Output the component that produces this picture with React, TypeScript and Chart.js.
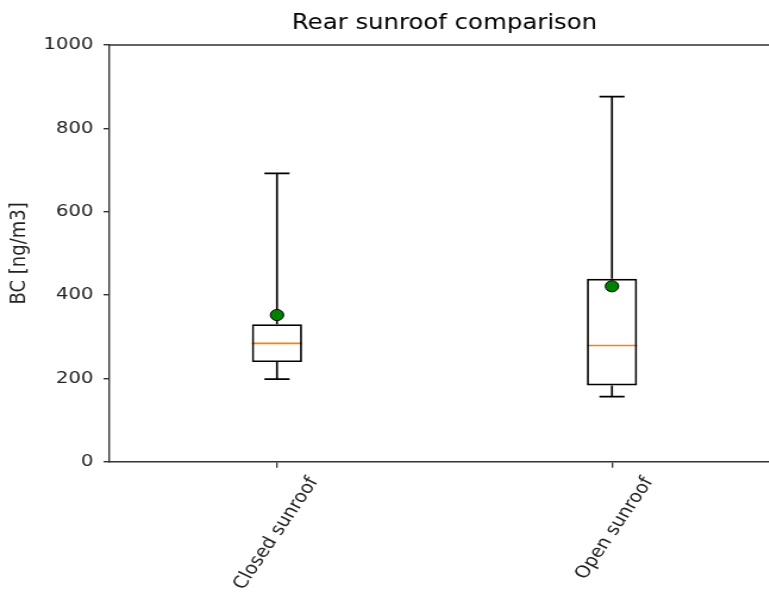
import React, { useEffect, useRef } from "react";
import { Chart, registerables } from "chart.js";

Chart.register(...registerables);

// ---- data ----
const categories: string[] = ["Closed sunroof", "Open sunroof"];
const whiskerLow: number[] = [198, 156];
const quartile1: number[] = [239, 183];
const medians: number[] = [284, 279];
const quartile3: number[] = [330, 439];
const whiskerHigh: number[] = [692, 876];
const means: number[] = [352, 421];
const yTicks: number[] = [0, 200, 400, 600, 800, 1000];

const chartTitle = "Rear sunroof comparison";
const yAxisLabel = "BC [ng/m3]";

// ---- layout constants ----
const STRETCH = 1.19; // horizontal stretch of the reference
const CANVAS_W = 747;
const CANVAS_H = 601;
const FONT = "'DejaVu Sans', sans-serif";
const BOX_FRAC = 0.15;

const boxPlugin = {
  id: "boxWhiskers",
  beforeDatasetsDraw(chart: any) {
    const { ctx, chartArea } = chart;
    const x = chart.scales.x;
    const y = chart.scales.y;
    const catW = (chartArea.right - chartArea.left) / categories.length;
    const boxHalf = (catW * BOX_FRAC) / 2;
    const capHalf = boxHalf / 2;
    ctx.save();
    // top spine + right spine
    ctx.strokeStyle = "#333";
    ctx.lineWidth = 1.4;
    ctx.beginPath();
    ctx.moveTo(chartArea.left, chartArea.top);
    ctx.lineTo(chartArea.right, chartArea.top);
    ctx.lineTo(chartArea.right, chartArea.bottom);
    ctx.stroke();

    ctx.strokeStyle = "#000";
    ctx.lineWidth = 1.7;
    categories.forEach((_, i) => {
      const cx = x.getPixelForValue(i);
      ctx.beginPath();
      ctx.moveTo(cx, y.getPixelForValue(quartile3[i]));
      ctx.lineTo(cx, y.getPixelForValue(whiskerHigh[i]));
      ctx.moveTo(cx, y.getPixelForValue(quartile1[i]));
      ctx.lineTo(cx, y.getPixelForValue(whiskerLow[i]));
      ctx.moveTo(cx - capHalf, y.getPixelForValue(whiskerHigh[i]));
      ctx.lineTo(cx + capHalf, y.getPixelForValue(whiskerHigh[i]));
      ctx.moveTo(cx - capHalf, y.getPixelForValue(whiskerLow[i]));
      ctx.lineTo(cx + capHalf, y.getPixelForValue(whiskerLow[i]));
      ctx.stroke();
    });
    ctx.strokeStyle = "#ff7f0e";
    ctx.lineWidth = 1.6;
    categories.forEach((_, i) => {
      const cx = x.getPixelForValue(i);
      const my = y.getPixelForValue(medians[i]);
      ctx.beginPath();
      ctx.moveTo(cx - boxHalf, my);
      ctx.lineTo(cx + boxHalf, my);
      ctx.stroke();
    });
    ctx.restore();
  },
};

export default function App() {
  const ref = useRef<HTMLCanvasElement | null>(null);

  useEffect(() => {
    if (!ref.current) return;
    const chart = new Chart(ref.current, {
      type: "bar",
      data: {
        labels: categories,
        datasets: [
          {
            type: "line",
            label: "mean",
            data: means,
            showLine: false,
            pointRadius: 5.6,
            pointBackgroundColor: "#008000",
            pointBorderColor: "#000",
            pointBorderWidth: 1,
            order: 0,
          } as any,
          {
            type: "bar",
            label: "box",
            data: categories.map((_, i) => [quartile1[i], quartile3[i]]),
            backgroundColor: "rgba(0,0,0,0)",
            borderColor: "#000",
            borderWidth: 1.7,
            borderSkipped: false,
            barPercentage: BOX_FRAC,
            categoryPercentage: 1,
            order: 1,
          } as any,
        ],
      },
      options: {
        animation: false,
        responsive: false,
        devicePixelRatio: 1,
        layout: { padding: 0 },
        plugins: {
          legend: { display: false },
          tooltip: { enabled: false },
          title: {
            display: true,
            text: chartTitle,
            color: "#000",
            font: { family: FONT, size: 20.5, weight: "normal" },
            padding: { top: 11.8, bottom: 8.6 },
          },
        },
        scales: {
          x: {
            type: "category",
            offset: true,
            grid: {
              offset: false,
              drawOnChartArea: false,
              drawTicks: true,
              tickLength: 6,
              color: "#333",
              lineWidth: 1.3,
            },
            border: { display: true, color: "#333", width: 1.4 },
            ticks: {
              color: "#222",
              font: { family: FONT, size: 17 },
              minRotation: 60,
              maxRotation: 60,
              autoSkip: false,
              padding: 6,
              labelOffset: 31,
            },
            afterFit(s: any) {
              s.height = 139.3;
            },
          },
          y: {
            type: "linear",
            position: "left",
            min: 0,
            max: 1000,
            afterBuildTicks(s: any) {
              s.ticks = yTicks.map((v) => ({ value: v }));
            },
            grid: {
              drawOnChartArea: false,
              drawTicks: true,
              tickLength: 5,
              color: "#333",
              lineWidth: 1.4,
            },
            border: { display: true, color: "#333", width: 1.4 },
            ticks: {
              color: "#222",
              font: { family: FONT, size: 16.5 },
              padding: 8.6,
              callback: (v: any) => String(v),
            },
            title: {
              display: true,
              text: yAxisLabel,
              color: "#222",
              font: { family: FONT, size: 18 },
              padding: { top: 6, bottom: 0 },
            },
            afterFit(s: any) {
              s.width = 92;
            },
          },
          yRight: {
            type: "linear",
            position: "right",
            display: true,
            grid: { display: false, drawTicks: false },
            border: { display: false },
            ticks: { display: false },
            afterFit(s: any) {
              s.width = 92;
            },
          },
        },
      },
      plugins: [boxPlugin],
    } as any);
    return () => chart.destroy();
  }, []);

  return (
    <div
      style={{
        position: "absolute",
        left: 0,
        top: 0,
        width: 769,
        height: 601,
        overflow: "hidden",
        background: "#fff",
      }}
    >
      <canvas
        ref={ref}
        width={CANVAS_W}
        height={CANVAS_H}
        style={{
          display: "block",
          width: CANVAS_W + "px",
          height: CANVAS_H + "px",
          transform: `scaleX(${STRETCH})`,
          transformOrigin: "0 0",
        }}
      />
    </div>
  );
}
